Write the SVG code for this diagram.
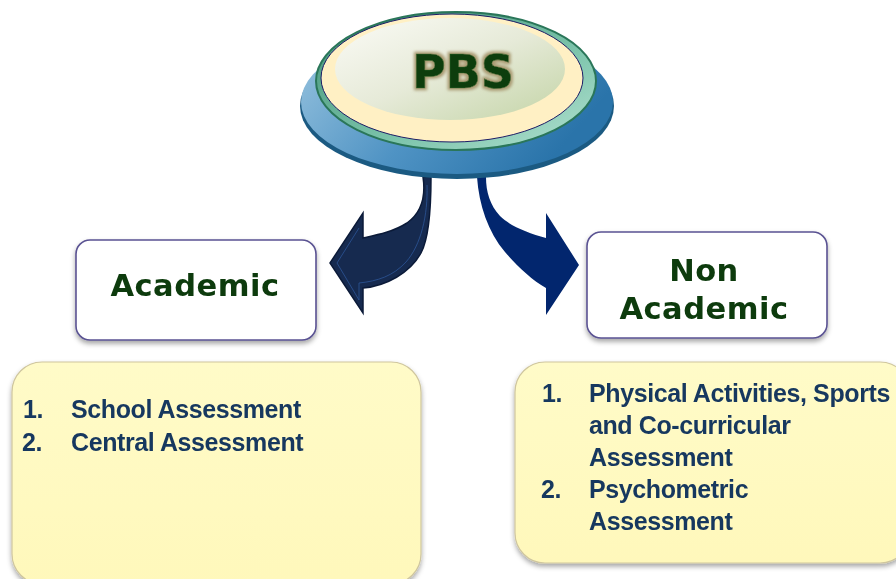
<svg xmlns="http://www.w3.org/2000/svg" width="896" height="579" viewBox="0 0 896 579">
<defs>
  <linearGradient id="gBlue" x1="0" y1="0" x2="1" y2="0.4">
    <stop offset="0" stop-color="#9cc6e0"/>
    <stop offset="0.55" stop-color="#4f93c4"/>
    <stop offset="1" stop-color="#2a74aa"/>
  </linearGradient>
  <linearGradient id="gRing" x1="0" y1="0" x2="1" y2="1">
    <stop offset="0" stop-color="#3f8f74"/>
    <stop offset="0.6" stop-color="#7cc4ab"/>
    <stop offset="1" stop-color="#b4e2d2"/>
  </linearGradient>
  <linearGradient id="gInner" x1="0" y1="0" x2="1" y2="1">
    <stop offset="0" stop-color="#fbfbf6"/>
    <stop offset="0.5" stop-color="#e6ead8"/>
    <stop offset="1" stop-color="#c3d4a6"/>
  </linearGradient>
  <linearGradient id="gYellow" x1="0" y1="0" x2="0" y2="1">
    <stop offset="0" stop-color="#fffbc8"/>
    <stop offset="1" stop-color="#fff8bb"/>
  </linearGradient>
  <filter id="glow" x="-20%" y="-30%" width="140%" height="160%">
    <feMorphology in="SourceAlpha" operator="dilate" radius="2" result="d"/>
    <feGaussianBlur in="d" stdDeviation="1.6" result="b"/>
    <feFlood flood-color="#a99a72"/>
    <feComposite in2="b" operator="in" result="g"/>
    <feMerge><feMergeNode in="g"/><feMergeNode in="SourceGraphic"/></feMerge>
  </filter>
  <filter id="shadow" x="-10%" y="-10%" width="120%" height="130%">
    <feGaussianBlur in="SourceAlpha" stdDeviation="2.5"/>
    <feOffset dx="0" dy="3" result="o"/>
    <feFlood flood-color="#000" flood-opacity="0.35"/>
    <feComposite in2="o" operator="in" result="s"/>
    <feMerge><feMergeNode in="s"/><feMergeNode in="SourceGraphic"/></feMerge>
  </filter>
</defs>
<style>
  .box { fill: #ffffff; stroke: #5a5292; stroke-width: 1.6; }
  .ybox { fill: url(#gYellow); stroke: #cfc69e; stroke-width: 1.2; }
  .hdr { font-family: "DejaVu Sans", Verdana, sans-serif; font-weight: bold; font-size: 30.5px; fill: #0b3a0b; letter-spacing: 0.5px; text-anchor: middle; }
  .item { font-family: "Liberation Sans", Arial, sans-serif; font-weight: bold; font-size: 25px; fill: #17375e; letter-spacing: -0.4px; }
</style>

<g id="connectors">
  <path id="arrow-left" d="M423,177 C426,197 421,213 407,223 C393,232 377,235 363,238 L363,213 L330,263 L363,313 L363,288 C386,286 410,273 421,253 C429,238 431,210 431,177 Z" fill="#162a4f" stroke="#0b1a38" stroke-width="1.5"/>
  <path d="M427,185 C428,215 421,245 406,262 C393,276 378,281 359,283 L359,300 L337,263 L359,228" fill="none" stroke="#2c5597" stroke-width="1" opacity="0.8"/>
  <path id="arrow-right" d="M477,177 C479,205 488,232 505,252 C517,266 532,280 546,288 L546,315 L579,265 L546,213 L546,238 C528,233 510,226 500,216 C490,205 486,192 486,177 Z" fill="#02266e"/>
</g>

<g id="pbs">
  <ellipse cx="457" cy="106" rx="157" ry="73" fill="#1b5a82"/>
  <ellipse cx="457" cy="102" rx="156" ry="72" fill="url(#gBlue)"/>
  <ellipse cx="456" cy="81" rx="140" ry="69" fill="url(#gRing)" stroke="#2a7659" stroke-width="2"/>
  <ellipse cx="452" cy="78" rx="131" ry="64" fill="#fff0c4" stroke="#1c1c66" stroke-width="1"/>
  <ellipse cx="450" cy="69" rx="115" ry="51" fill="url(#gInner)"/>
  <text x="463" y="88" text-anchor="middle" font-family="'DejaVu Sans', Verdana, sans-serif" font-weight="bold" font-size="46" fill="#0a3d0a" stroke="#2d6a2d" stroke-width="0.6" filter="url(#glow)">PBS</text>
</g>

<g id="academic" filter="url(#shadow)">
  <rect class="box" x="76" y="240" width="240" height="100" rx="14"/>
  <text class="hdr" x="195" y="296">Academic</text>
</g>

<g id="non-academic" filter="url(#shadow)">
  <rect class="box" x="587" y="232" width="240" height="106" rx="14"/>
  <text class="hdr" x="704" y="281">Non</text>
  <text class="hdr" x="704" y="319">Academic</text>
</g>

<g id="academic-list" filter="url(#shadow)">
  <rect class="ybox" x="12" y="362" width="409" height="222" rx="30"/>
  <text class="item" x="23" y="418">1.</text>
  <text class="item" x="71" y="418">School Assessment</text>
  <text class="item" x="22" y="451">2.</text>
  <text class="item" x="71" y="451">Central Assessment</text>
</g>

<g id="non-academic-list" filter="url(#shadow)">
  <rect class="ybox" x="515" y="362" width="395" height="201" rx="30"/>
  <text class="item" x="542" y="402">1.</text>
  <text class="item" x="589" y="402">Physical Activities, Sports</text>
  <text class="item" x="589" y="434">and Co-curricular</text>
  <text class="item" x="589" y="466">Assessment</text>
  <text class="item" x="541" y="498">2.</text>
  <text class="item" x="589" y="498">Psychometric</text>
  <text class="item" x="589" y="530">Assessment</text>
</g>
</svg>
